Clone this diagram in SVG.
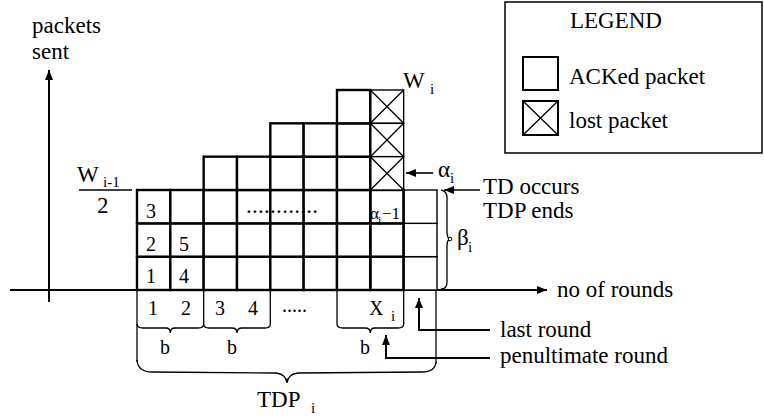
<svg xmlns="http://www.w3.org/2000/svg" width="764" height="417" viewBox="0 0 764 417">
<defs>
<marker id="ah" viewBox="0 0 10 8" refX="10" refY="4" markerWidth="10" markerHeight="8" markerUnits="userSpaceOnUse" orient="auto">
<path d="M0,0 L10,4 L0,8 z" fill="#000"/>
</marker>
<rect id="cell" width="33.33" height="33.33" fill="#fff" stroke="#000" stroke-width="2.4"/>
</defs>
<rect width="764" height="417" fill="#fff"/>

<g id="axes">
<line x1="49" y1="302" x2="49" y2="70" stroke="#000" stroke-width="2" marker-end="url(#ah)"/>
<line x1="10" y1="290" x2="547" y2="290" stroke="#000" stroke-width="2" marker-end="url(#ah)"/>
<text font-family="serif" font-size="23" x="32" y="33">packets</text>
<text font-family="serif" font-size="23" x="32" y="59">sent</text>
<text font-family="serif" font-size="23" x="557" y="297">no of rounds</text>
</g>

<g id="grid">
<use href="#cell" x="137" y="256.67"/><use href="#cell" x="137" y="223.33"/><use href="#cell" x="137" y="190"/>
<use href="#cell" x="170.33" y="256.67"/><use href="#cell" x="170.33" y="223.33"/><use href="#cell" x="170.33" y="190"/>
<use href="#cell" x="203.67" y="256.67"/><use href="#cell" x="203.67" y="223.33"/><use href="#cell" x="203.67" y="190"/><use href="#cell" x="203.67" y="156.67"/>
<use href="#cell" x="237" y="256.67"/><use href="#cell" x="237" y="223.33"/><use href="#cell" x="237" y="190"/><use href="#cell" x="237" y="156.67"/>
<use href="#cell" x="270.33" y="256.67"/><use href="#cell" x="270.33" y="223.33"/><use href="#cell" x="270.33" y="190"/><use href="#cell" x="270.33" y="156.67"/><use href="#cell" x="270.33" y="123.33"/>
<use href="#cell" x="303.67" y="256.67"/><use href="#cell" x="303.67" y="223.33"/><use href="#cell" x="303.67" y="190"/><use href="#cell" x="303.67" y="156.67"/><use href="#cell" x="303.67" y="123.33"/>
<use href="#cell" x="337" y="256.67"/><use href="#cell" x="337" y="223.33"/><use href="#cell" x="337" y="190"/><use href="#cell" x="337" y="156.67"/><use href="#cell" x="337" y="123.33"/><use href="#cell" x="337" y="90"/>
<use href="#cell" x="370.33" y="256.67"/><use href="#cell" x="370.33" y="223.33"/><use href="#cell" x="370.33" y="190"/>
<g fill="#fff" stroke="#000" stroke-width="1.4">
<rect x="370.33" y="90" width="33.33" height="33.33"/>
<rect x="370.33" y="123.33" width="33.33" height="33.33"/>
<rect x="370.33" y="156.67" width="33.33" height="33.33"/>
<rect x="403.67" y="256.67" width="33.33" height="33.33"/>
<rect x="403.67" y="223.33" width="33.33" height="33.33"/>
<rect x="403.67" y="190" width="33.33" height="33.33"/>
</g>
<path d="M370.33,90 L403.67,123.33 M403.67,90 L370.33,123.33 M370.33,123.33 L403.67,156.67 M403.67,123.33 L370.33,156.67 M370.33,156.67 L403.67,190 M403.67,156.67 L370.33,190" stroke="#000" stroke-width="1.3" fill="none"/>
<line x1="370.33" y1="89" x2="370.33" y2="291" stroke="#000" stroke-width="2.4"/>
<line x1="403.67" y1="190" x2="403.67" y2="290" stroke="#000" stroke-width="2.4"/>
<text font-family="serif" font-size="20" x="146" y="218">3</text>
<text font-family="serif" font-size="20" x="146" y="251">2</text>
<text font-family="serif" font-size="20" x="146" y="283">1</text>
<text font-family="serif" font-size="20" x="179" y="251">5</text>
<text font-family="serif" font-size="20" x="179" y="283">4</text>
<text font-family="serif" font-size="23" x="246" y="213" textLength="72" lengthAdjust="spacing">............</text>
<text font-family="serif" font-size="17" x="370" y="219">&#945;</text>
<text font-family="serif" font-size="12" x="378" y="225">i</text>
<text font-family="serif" font-size="17" x="382" y="219">&#8722;1</text>
</g>

<g id="labels">
<text font-family="serif" font-size="23" x="403" y="88">W</text>
<text font-family="serif" font-size="15" x="430" y="94">i</text>
<text font-family="serif" font-size="23" x="77" y="182">W</text>
<text font-family="serif" font-size="15" x="103" y="187">i-1</text>
<line x1="79" y1="190" x2="132" y2="190" stroke="#000" stroke-width="1.6"/>
<text font-family="serif" font-size="23" x="97" y="213">2</text>
<text font-family="serif" font-size="23" x="438" y="177">&#945;</text>
<text font-family="serif" font-size="15" x="450" y="183">i</text>
<text font-family="serif" font-size="23" x="483" y="194">TD occurs</text>
<text font-family="serif" font-size="23" x="483" y="218">TDP ends</text>
<text font-family="serif" font-size="23" x="457" y="245">&#946;</text>
<text font-family="serif" font-size="15" x="468" y="252">i</text>
<text font-family="serif" font-size="20" x="148" y="315">1</text>
<text font-family="serif" font-size="20" x="181" y="315">2</text>
<text font-family="serif" font-size="20" x="215" y="315">3</text>
<text font-family="serif" font-size="20" x="248" y="315">4</text>
<text font-family="serif" font-size="20" x="282" y="312">.....</text>
<text font-family="serif" font-size="20" x="369" y="315">X</text>
<text font-family="serif" font-size="15" x="391" y="321">i</text>
<text font-family="serif" font-size="20" x="160" y="354">b</text>
<text font-family="serif" font-size="20" x="227" y="354">b</text>
<text font-family="serif" font-size="20" x="360" y="354">b</text>
<text font-family="serif" font-size="23" x="257" y="407">TDP</text>
<text font-family="serif" font-size="15" x="311" y="413">i</text>
<text font-family="serif" font-size="23" x="500" y="337">last round</text>
<text font-family="serif" font-size="23" x="500" y="363">penultimate round</text>
</g>

<g id="braces" stroke="#000" stroke-width="1.3" fill="none">
<line x1="137" y1="290" x2="137" y2="362"/>
<line x1="436" y1="290" x2="436" y2="364"/>
<path d="M137,324 Q137,328 143,328 L166,328 Q170.3,328 170.3,333 Q170.3,328 175,328 L198,328 Q203.7,328 203.7,324 V290"/>
<path d="M203.7,324 Q203.7,328 209,328 L232,328 Q237,328 237,333 Q237,328 242,328 L265,328 Q270.3,328 270.3,324 V290"/>
<path d="M337,290 V324 Q337,328 343,328 L365,328 Q370.3,328 370.3,333 Q370.3,328 375,328 L398,328 Q403.7,328 403.7,324 V290"/>
<path d="M137,360 Q138,372 152,372 L276,373 Q286,374 287,383 Q288,374 298,373 L422,372 Q435,372 436,362"/>
<path d="M441,190 Q447,191 447,198 V232 Q447,239 451,239 Q447,239 447,246 V282 Q447,289 441,289"/>
<circle cx="450" cy="239" r="1.8" fill="#fff" stroke-width="1"/>
</g>

<g id="connectors" stroke="#000" fill="none">
<line x1="433" y1="173" x2="406" y2="173" stroke-width="1.6" marker-end="url(#ah)"/>
<line x1="480" y1="190" x2="444" y2="190" stroke-width="1.6" marker-end="url(#ah)"/>
<path d="M490,330 H419 V298" stroke-width="2" marker-end="url(#ah)"/>
<path d="M490,358 H386 V335" stroke-width="2" marker-end="url(#ah)"/>
</g>

<g id="legend">
<rect x="505" y="2" width="257" height="151" fill="#fff" stroke="#000" stroke-width="1.5"/>
<text font-family="serif" font-size="23" x="570" y="28">LEGEND</text>
<rect x="523" y="57" width="35" height="33" fill="#fff" stroke="#000" stroke-width="2"/>
<text font-family="serif" font-size="23" x="569" y="84">ACKed packet</text>
<rect x="523" y="101" width="35" height="34" fill="#fff" stroke="#000" stroke-width="2"/>
<path d="M523,101 L558,135 M558,101 L523,135" stroke="#000" stroke-width="1.3" fill="none"/>
<text font-family="serif" font-size="23" x="569" y="128">lost packet</text>
</g>
</svg>
